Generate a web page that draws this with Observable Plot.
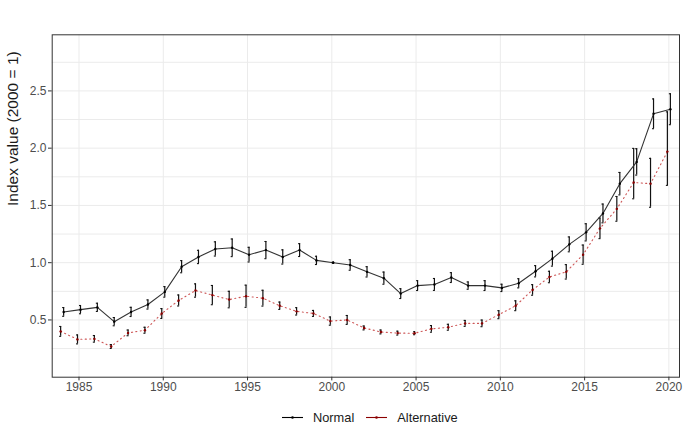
<!DOCTYPE html>
<html>
<head>
<meta charset="utf-8">
<script src="https://cdn.jsdelivr.net/npm/d3@7"></script>
<script src="https://cdn.jsdelivr.net/npm/@observablehq/plot@0.6"></script>
<style>
  html, body { margin: 0; padding: 0; background: #fff; }
  body { width: 683px; height: 434px; position: relative; overflow: hidden;
         font-family: "Liberation Sans", Arial, sans-serif; }
  #chart { position: absolute; left: 0; top: 0; }
  #legend { position: absolute; left: 282px; top: 409px; display: flex; align-items: center;
            font-size: 12.8px; color: #1a1a1a; }
  #legend .item { display: flex; align-items: center; margin-right: 12px; }
  #legend svg { margin-right: 10px; }
</style>
</head>
<body>
<div id="chart"></div>
<div id="legend"></div>
<script>
const years = d3.range(1984, 2021);
const seriesNames = ["Normal", "Alternative"];
const yTicks = [0.5, 1.0, 1.5, 2.0, 2.5];
const yGrid = [0.25, 0.5, 0.75, 1.0, 1.25, 1.5, 1.75, 2.0, 2.25, 2.5, 2.75];
const xTicks = [1985, 1990, 1995, 2000, 2005, 2010, 2015, 2020];

const normalVal = [0.57, 0.59, 0.61, 0.485, 0.57, 0.635, 0.745, 0.965, 1.05, 1.12, 1.13, 1.07, 1.11, 1.05, 1.11, 1.02, 1.00, 0.98, 0.92, 0.865, 0.73, 0.80, 0.81, 0.87, 0.80, 0.80, 0.78, 0.82, 0.925, 1.035, 1.16, 1.265, 1.43, 1.69, 1.88, 2.30, 2.34];
const normalLo  = [0.532, 0.554, 0.574, 0.449, 0.53, 0.595, 0.699, 0.912, 0.992, 1.058, 1.053, 1.006, 1.035, 0.988, 1.054, 0.984, 0.995, 0.934, 0.875, 0.812, 0.687, 0.757, 0.758, 0.827, 0.768, 0.757, 0.748, 0.78, 0.876, 0.97, 1.095, 1.19, 1.348, 1.592, 1.765, 2.17, 2.205];
const normalHi  = [0.608, 0.626, 0.646, 0.521, 0.61, 0.675, 0.791, 1.018, 1.108, 1.182, 1.207, 1.134, 1.185, 1.112, 1.166, 1.056, 1.005, 1.026, 0.965, 0.918, 0.773, 0.843, 0.862, 0.913, 0.832, 0.843, 0.812, 0.86, 0.974, 1.10, 1.225, 1.34, 1.512, 1.788, 1.995, 2.43, 2.475];

const altVal = [0.40, 0.33, 0.335, 0.268, 0.387, 0.41, 0.556, 0.67, 0.757, 0.717, 0.678, 0.707, 0.69, 0.624, 0.575, 0.557, 0.49, 0.50, 0.43, 0.395, 0.385, 0.384, 0.422, 0.436, 0.47, 0.47, 0.546, 0.624, 0.762, 0.875, 0.92, 1.07, 1.30, 1.47, 1.70, 1.69, 1.97];
const altLo  = [0.357, 0.291, 0.306, 0.251, 0.362, 0.384, 0.513, 0.622, 0.699, 0.633, 0.606, 0.61, 0.621, 0.592, 0.543, 0.531, 0.454, 0.461, 0.413, 0.378, 0.368, 0.371, 0.393, 0.41, 0.444, 0.441, 0.511, 0.581, 0.716, 0.825, 0.857, 0.986, 1.21, 1.362, 1.558, 1.484, 1.675];
const altHi  = [0.443, 0.369, 0.364, 0.285, 0.412, 0.436, 0.599, 0.718, 0.815, 0.801, 0.75, 0.804, 0.759, 0.656, 0.607, 0.583, 0.526, 0.539, 0.447, 0.412, 0.402, 0.397, 0.451, 0.462, 0.496, 0.499, 0.581, 0.667, 0.808, 0.925, 0.983, 1.154, 1.39, 1.578, 1.998, 1.911, 2.317];

const normal = years.map((year, i) => ({year, v: normalVal[i], lo: normalLo[i], hi: normalHi[i]}));
const alt = years.map((year, i) => ({year, v: altVal[i], lo: altLo[i], hi: altHi[i]}));

const capHalf = 0.06;
const errStroke = "#111";

const chart = Plot.plot({
  width: 683,
  height: 400,
  marginLeft: 51.7,
  marginRight: 4,
  marginTop: 34.3,
  marginBottom: 23.3,
  style: {fontFamily: '"Liberation Sans", Arial, sans-serif', fontSize: "12px", background: "#fff"},
  x: {domain: [1983.41, 2020.63], label: null},
  y: {domain: [0, 2.99], label: null},
  marks: [
    Plot.gridY(yGrid, {stroke: "#ebebeb", strokeOpacity: 1, strokeWidth: 1}),
    Plot.gridX(xTicks, {stroke: "#ebebeb", strokeOpacity: 1, strokeWidth: 1}),
    Plot.axisX(xTicks, {tickFormat: d3.format("d"), tickSize: 3.7, tickPadding: 2, stroke: "#333", fill: "#4d4d4d", fontSize: 12, label: null}),
    Plot.axisY(yTicks, {tickFormat: d3.format(".1f"), tickSize: 3.7, tickPadding: 2, stroke: "#333", fill: "#4d4d4d", fontSize: 12, label: null}),
    // alternative series
    Plot.line(alt, {x: "year", y: "v", dx: -1.5, stroke: "#c43a3a", strokeOpacity: 0.85, strokeWidth: 1.1, strokeDasharray: "1.1,3.3"}),
    Plot.ruleX(alt, {x: "year", y1: "lo", y2: "hi", dx: -1.5, stroke: errStroke, strokeWidth: 1.2}),
    Plot.ruleY(alt, {y: "lo", x1: d => d.year - capHalf, x2: d => d.year + capHalf, dx: -1.5, stroke: errStroke, strokeWidth: 1.1}),
    Plot.ruleY(alt, {y: "hi", x1: d => d.year - capHalf, x2: d => d.year + capHalf, dx: -1.5, stroke: errStroke, strokeWidth: 1.1}),
    Plot.dot(alt, {x: "year", y: "v", dx: -1.5, r: 1.2, fill: "#8b0000", stroke: null}),
    // normal series
    Plot.line(normal, {x: "year", y: "v", dx: 1.5, stroke: "#333", strokeWidth: 1.1}),
    Plot.ruleX(normal, {x: "year", y1: "lo", y2: "hi", dx: 1.5, stroke: errStroke, strokeWidth: 1.2}),
    Plot.ruleY(normal, {y: "lo", x1: d => d.year - capHalf, x2: d => d.year + capHalf, dx: 1.5, stroke: errStroke, strokeWidth: 1.1}),
    Plot.ruleY(normal, {y: "hi", x1: d => d.year - capHalf, x2: d => d.year + capHalf, dx: 1.5, stroke: errStroke, strokeWidth: 1.1}),
    Plot.dot(normal, {x: "year", y: "v", dx: 1.5, r: 1.2, fill: "#000", stroke: null}),
    Plot.frame({stroke: "#333", strokeWidth: 1}),
    Plot.text(["Index value (2000 = 1)"], {frameAnchor: "left", rotate: -90, dx: -39.2, fontSize: 15.5, fill: "#1a1a1a"})
  ]
});
document.getElementById("chart").appendChild(chart);

const legendColors = {"Normal": "#000", "Alternative": "#8b0000"};
const legend = d3.select("#legend");
seriesNames.forEach(name => {
  const item = legend.append("div").attr("class", "item");
  const svg = item.append("svg").attr("width", 21).attr("height", 16);
  svg.append("line").attr("x1", 0).attr("x2", 21).attr("y1", 8.5).attr("y2", 8.5)
     .attr("stroke", legendColors[name]).attr("stroke-width", 1.1);
  svg.append("circle").attr("cx", 10.5).attr("cy", 8.5).attr("r", 1.3).attr("fill", legendColors[name]);
  item.append("span").text(name);
});
</script>
</body>
</html>
